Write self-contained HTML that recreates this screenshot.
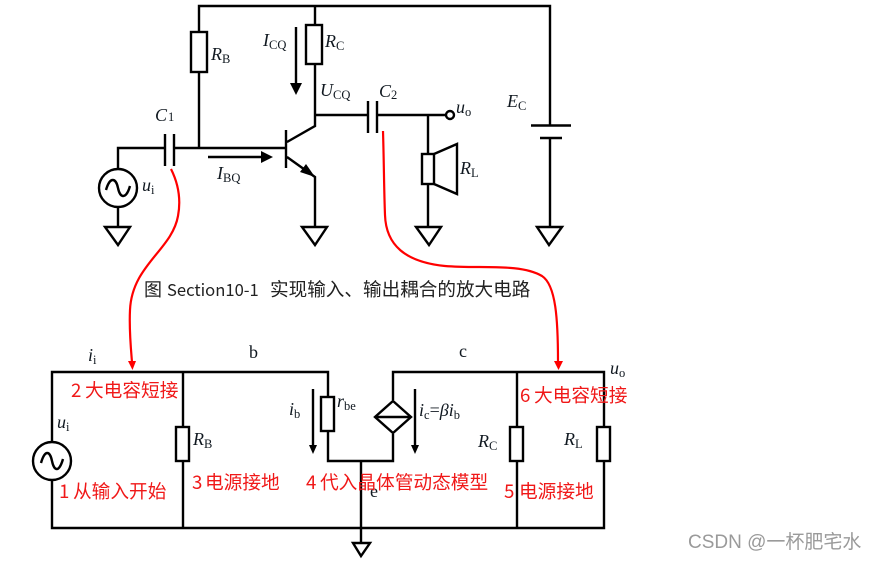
<!DOCTYPE html>
<html><head><meta charset="utf-8">
<style>
html,body{margin:0;padding:0;background:#fff;width:875px;height:561px;overflow:hidden}
svg{display:block}
.k{stroke:#000;stroke-width:2.4;fill:none}
.w{stroke:#000;stroke-width:2.4;fill:#fff}
.t{font-family:"Liberation Serif",serif;font-size:18px;fill:#101820}
.i{font-style:italic}
.s{font-size:12.5px}
.r{font-family:"Noto Sans CJK SC","Liberation Sans",sans-serif;font-size:18.7px;fill:#f01818}
.c{font-family:"Noto Sans CJK SC",sans-serif;fill:#222}
</style></head><body>
<svg width="875" height="561" viewBox="0 0 875 561" xmlns="http://www.w3.org/2000/svg">
<!-- top circuit -->
<path class="k" d="M199 147V6H550V125M315 6V126L287 142M118 168V148H165M174 148H286M286 130V168M287 157L315 177V227M118 207V227M315 115H368M377 115H446M428 115V227M550 138V227"/>
<path class="k" d="M165 134V166M174 134V166M368 101V133M377 101V133M531 125.5H571M540 138H562"/>
<rect class="w" x="191" y="32" width="16" height="40"/>
<rect class="w" x="306" y="25" width="16" height="39"/>
<circle class="w" cx="118" cy="188" r="19"/>
<path class="k" d="M106 190C110 176 116 178 118 188C120 198 126 200 130 186"/>
<path d="M315 177L300 172L306 164Z" fill="#000"/>
<g class="k"><path d="M105 227H130L118 245Z"/><path d="M302 227H327L315 245Z"/><path d="M416 227H441L429 245Z"/><path d="M537 227H562L549 245Z"/></g>
<path class="k" d="M434 154L457 144V194L434 184"/>
<rect class="w" x="422" y="154" width="12" height="30"/>
<circle class="w" cx="450" cy="115" r="4"/>
<path class="k" d="M296 27V84M208 157H262"/>
<path d="M290 83H302L296 95Z M261 151L273 157L261 163Z" fill="#000"/>
<!-- top labels -->
<text class="t i" x="155" y="121">C<tspan class="s" font-style="normal" dx="1" dy="0">1</tspan></text>
<text class="t i" x="211" y="60">R<tspan class="s" font-style="normal" dy="3">B</tspan></text>
<text class="t i" x="263" y="46">I<tspan class="s" font-style="normal" dy="3">CQ</tspan></text>
<text class="t i" x="325" y="47">R<tspan class="s" font-style="normal" dy="3">C</tspan></text>
<text class="t i" x="320" y="96">U<tspan class="s" font-style="normal" dy="3">CQ</tspan></text>
<text class="t i" x="379" y="97">C<tspan class="s" font-style="normal" dy="2">2</tspan></text>
<text class="t i" x="456" y="113">u<tspan class="s" font-style="normal" dy="3">o</tspan></text>
<text class="t i" x="507" y="107">E<tspan class="s" font-style="normal" dy="3">C</tspan></text>
<text class="t i" x="460" y="174">R<tspan class="s" font-style="normal" dy="3">L</tspan></text>
<text class="t i" x="142" y="191">u<tspan class="s" font-style="normal" dy="3">i</tspan></text>
<text class="t i" x="217" y="179">I<tspan class="s" font-style="normal" dy="3">BQ</tspan></text>
<!-- caption -->
<text class="c" x="144" y="296" font-size="18">图</text>
<text class="c" x="167" y="296" font-size="16.6">Section10-1</text>
<text class="c" x="270" y="296" font-size="18.6">实现输入、输出耦合的放大电路</text>
<!-- bottom circuit -->
<path class="k" d="M52 442V372H328V397M52 480V528H604V372H393V400M183 372V528M328 431V461H393V434M361 461V543M517 372V528"/>
<rect class="w" x="176" y="427" width="13" height="34"/>
<rect class="w" x="321" y="397" width="13" height="34"/>
<rect class="w" x="510" y="427" width="13" height="34"/>
<rect class="w" x="597" y="427" width="13" height="34"/>
<circle class="w" cx="52" cy="461" r="19"/>
<path class="k" d="M41 463C45 449 50 451 52 461C54 471 59 473 63 459"/>
<path class="w" d="M393 401L411 417L393 433L375 417Z"/>
<path class="k" d="M375 417H411"/>
<path class="k" d="M353 543H370L361 556Z"/>
<path class="k" d="M313 389V446M415 389V446"/>
<path d="M309 445H317L313 454Z M411 445H419L415 454Z" fill="#000"/>
<!-- bottom labels -->
<text class="t i" x="88" y="361">i<tspan class="s" font-style="normal" dy="3">i</tspan></text>
<text class="t" x="249" y="358">b</text>
<text class="t" x="459" y="357">c</text>
<text class="t i" x="610" y="374">u<tspan class="s" font-style="normal" dy="3">o</tspan></text>
<text class="t i" x="57" y="428">u<tspan class="s" font-style="normal" dy="3">i</tspan></text>
<text class="t i" x="193" y="445">R<tspan class="s" font-style="normal" dy="3">B</tspan></text>
<text class="t i" x="289" y="415">i<tspan class="s" font-style="normal" dy="3">b</tspan></text>
<text class="t i" x="337" y="407">r<tspan class="s" font-style="normal" dy="3">be</tspan></text>
<text class="t i" x="419" y="416">i<tspan class="s" font-style="normal" dy="3">c</tspan><tspan font-style="normal" dy="-3">=</tspan><tspan>βi</tspan><tspan class="s" font-style="normal" dy="3">b</tspan></text>
<text class="t i" x="478" y="447">R<tspan class="s" font-style="normal" dy="3">C</tspan></text>
<text class="t i" x="564" y="445">R<tspan class="s" font-style="normal" dy="3">L</tspan></text>
<text class="t" x="370" y="497">e</text>
<!-- red -->
<path d="M171 169C179 185 181 200 178 216C172 250 132 265 130 310C129 330 131 350 132 362" fill="none" stroke="#f00" stroke-width="2.2"/>
<path d="M128 361H136L132.500 370Z" fill="#f00"/>
<path d="M383 131C384 165 384 190 385 215C386 245 405 262 445 266C480 269 520 263 542 276C556 285 558 320 558 362" fill="none" stroke="#f00" stroke-width="2.2"/>
<path d="M554 361H563L558.500 370Z" fill="#f00"/>
<text class="r" x="71" y="397">2</text><text class="r" x="85" y="397">大电容短接</text>
<text class="r" x="59" y="498">1</text><text class="r" x="73" y="498">从输入开始</text>
<text class="r" x="192" y="489">3</text><text class="r" x="205" y="489">电源接地</text>
<text class="r" x="306" y="489">4</text><text class="r" x="320" y="489">代入晶体管动态模型</text>
<text class="r" x="504" y="498">5</text><text class="r" x="519" y="498">电源接地</text>
<text class="r" x="520" y="402">6</text><text class="r" x="534" y="402">大电容短接</text>
<text x="688" y="548" font-family="'Liberation Sans','Noto Sans CJK SC',sans-serif" font-size="19" fill="#9a9a9a">CSDN @一杯肥宅水</text>
</svg>
</body></html>
